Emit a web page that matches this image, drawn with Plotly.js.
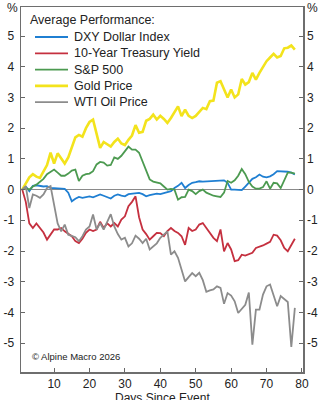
<!DOCTYPE html>
<html>
<head>
<meta charset="utf-8">
<script src="https://cdn.plot.ly/plotly-3.0.1.min.js"></script>
<style>html,body{margin:0;padding:0;background:#fff;}#chart{width:324px;height:400px;}</style>
</head>
<body>
<div id="chart"></div>
<script>
const days = [1,2,3,4,5,6,7,8,9,10,11,12,13,14,15,16,17,18,19,20,21,22,23,24,25,26,27,28,29,30,31,32,33,34,35,36,37,38,39,40,41,42,43,44,45,46,47,48,49,50,51,52,53,54,55,56,57,58,59,60,61,62,63,64,65,66,67,68,69,70,71,72,73,74,75,76,77,78];

const dxy = [0,0.1,-0.05,0.12,0.14,0.12,0.1,0.11,0.05,0.05,0.04,0.03,0.02,-0.1,-0.38,-0.3,-0.24,-0.27,-0.25,-0.22,-0.25,-0.2,-0.16,-0.2,-0.25,-0.29,-0.2,-0.16,-0.2,-0.22,-0.15,-0.13,-0.12,-0.11,-0.15,-0.22,-0.18,-0.15,-0.13,-0.15,-0.12,-0.08,-0.05,0.05,0.12,0.22,0.05,0.15,0.22,0.24,0.27,0.26,0.27,0.27,0.27,0.28,0.3,0.3,0.22,0.0,0.0,0.0,-0.02,0.1,0.22,0.35,0.4,0.49,0.42,0.4,0.43,0.5,0.6,0.6,0.6,0.58,0.55,0.49];

const treasury = [0,-0.4,-1.1,-1.25,-1.1,-1.25,-1.4,-1.63,-1.47,-1.3,-1.3,-1.25,-1.36,-1.43,-1.52,-1.68,-1.74,-1.6,-1.41,-1.3,-1.35,-1.3,-1.05,-1.25,-1.1,-1.2,-1.09,-1.2,-0.98,-0.87,-0.54,-0.4,-0.22,-0.9,-1.3,-1.45,-1.63,-1.52,-1.41,-1.42,-1.52,-1.35,-1.25,-1.35,-1.41,-1.52,-1.8,-1.25,-1.35,-1.3,-1.14,-1.09,-1.25,-1.45,-1.57,-1.68,-1.3,-2.01,-1.74,-1.95,-2.33,-2.3,-2.12,-2.15,-2.1,-2.06,-1.9,-1.87,-1.82,-1.76,-1.7,-1.47,-1.5,-1.65,-1.9,-2.01,-1.79,-1.6];

const sp500 = [0,0.05,0.0,0.1,0.16,0.25,0.35,0.5,0.58,0.65,0.55,0.45,0.45,0.52,0.62,0.65,0.28,0.45,0.5,0.52,0.6,0.82,0.9,0.88,0.78,0.8,1.05,1.0,1.1,1.25,1.4,1.3,1.3,1.2,0.9,0.6,0.33,0.26,0.24,0.2,0.1,0.0,0.02,0.0,-0.33,-0.25,-0.24,0.0,-0.05,-0.15,-0.05,0.0,-0.1,-0.16,-0.2,-0.22,-0.24,-0.1,0.28,0.22,0.3,0.45,0.67,0.5,0.25,0.1,0.03,0.03,0.08,0.27,0.03,0.22,0.2,0.05,0.3,0.55,0.55,0.52];

const gold = [0,0.2,0.4,0.5,0.42,0.38,0.6,0.8,1.2,0.85,1.18,1.0,0.85,1.05,1.4,1.7,1.78,1.72,2.0,2.2,2.28,1.8,1.36,1.55,1.48,1.4,1.55,1.66,1.5,1.45,1.62,1.76,2.1,1.85,1.88,2.24,2.3,2.44,2.28,2.4,2.3,2.17,2.33,2.5,2.71,2.39,2.6,2.4,2.33,2.4,2.52,2.66,2.62,2.88,2.9,3.48,3.53,3.25,3.0,3.26,3.0,3.1,3.6,3.42,3.5,3.8,3.58,3.8,4.0,4.18,4.3,4.42,4.3,4.35,4.6,4.62,4.69,4.56];

const wti = [0,0.11,-0.6,-0.16,-0.2,-0.27,-0.16,0.05,0.11,-0.5,-1.1,-1.36,-1.14,-1.47,-1.52,-1.55,-1.68,-1.52,-1.3,-1.2,-0.81,-1.3,-1.09,-1.3,-1.05,-0.8,-1.2,-1.45,-1.63,-1.57,-1.85,-1.75,-1.5,-1.6,-1.74,-1.6,-1.95,-1.85,-1.75,-1.57,-1.45,-1.36,-2.12,-2.01,-2.22,-2.6,-2.99,-2.85,-2.72,-2.82,-2.71,-2.95,-3.33,-3.28,-3.25,-3.15,-3.2,-3.72,-3.37,-3.45,-3.64,-4.02,-3.9,-3.75,-3.35,-5.05,-3.91,-3.91,-3.42,-3.15,-3.09,-3.45,-3.8,-3.47,-3.58,-3.66,-5.12,-3.85];

const seriesNames = ["DXY Dollar Index","10-Year Treasury Yield","S&P 500","Gold Price","WTI Oil Price"];
const legendTitle = "Average Performance:";
const yTickVals = [-5,-4,-3,-2,-1,0,1,2,3,4,5];
const yTickText = ["-5","-4","-3","-2","-1","0","1","2","3","4","5"];
const xTickVals = [10,20,30,40,50,60,70,80];

const colors = ["#1f7fd2","#c5303f","#4c9a50","#f3e31c","#8c8c8c"];
const widths = [1.8,1.8,1.8,2.6,1.8];
const values = [dxy, treasury, sp500, gold, wti];

const traces = values.map((v,i)=>({
  x: days, y: v, type:'scatter', mode:'lines', name: seriesNames[i],
  line:{color:colors[i], width:widths[i]}
}));
traces.push({x:[days[0]], y:[0], yaxis:'y2', type:'scatter', mode:'markers', marker:{opacity:0}, showlegend:false, hoverinfo:'skip'});

const font = {family:'"Liberation Sans", Arial, sans-serif', color:'#222'};
const yr = [-5.94, 5.945];

// pixel -> paper helpers for the hand-built legend
const L = 21, R = 303, T = 7, B = 372;
const px = p => (p - L) / (R - L);
const py = p => (B - p) / (B - T);

const shapes = [];
const annotations = [
  {xref:'paper', yref:'paper', x:px(12.5), y:py(8), xanchor:'center', yanchor:'middle', text:'%', showarrow:false, font:Object.assign({size:12}, font)},
  {xref:'paper', yref:'paper', x:px(312), y:py(8), xanchor:'center', yanchor:'middle', text:'%', showarrow:false, font:Object.assign({size:12}, font)},
  {xref:'paper', yref:'paper', x:px(30), y:py(356), xanchor:'left', yanchor:'middle', text:'© Alpine Macro 2026', showarrow:false, font:Object.assign({size:9.5}, font)},
  {xref:'paper', yref:'paper', x:px(162), y:py(398), xanchor:'center', yanchor:'middle', text:'Days Since Event', showarrow:false, font:Object.assign({size:12}, font)},
  {xref:'paper', yref:'paper', x:px(28), y:py(20), xanchor:'left', yanchor:'middle', text:legendTitle, showarrow:false, font:Object.assign({size:12.5}, font)}
];
seriesNames.forEach((n,i)=>{
  const yy = 37 + 16.3*i;
  shapes.push({type:'line', xref:'paper', yref:'paper', x0:px(35), x1:px(68), y0:py(yy), y1:py(yy), line:{color:colors[i], width:widths[i]}});
  annotations.push({xref:'paper', yref:'paper', x:px(72), y:py(yy), xanchor:'left', yanchor:'middle', text:n, showarrow:false, font:Object.assign({size:12.5}, font)});
});

const layout = {
  width:324, height:400,
  margin:{l:L, r:324-R, t:T, b:400-B, pad:0},
  paper_bgcolor:'#fff', plot_bgcolor:'#fff',
  font: Object.assign({size:12}, font),
  showlegend:false,
  xaxis:{
    range:[0.65, 80.3], tickmode:'array', tickvals:xTickVals,
    ticks:'inside', ticklen:4, tickcolor:'#666', tickwidth:1,
    showline:true, linecolor:'#6e6e6e', linewidth:1.5, mirror:true,
    showgrid:false, zeroline:false,
    tickfont:Object.assign({size:12}, font)
  },
  yaxis:{
    range:yr, tickmode:'array', tickvals:yTickVals, ticktext:yTickText,
    ticks:'inside', ticklen:4, tickcolor:'#666', tickwidth:1,
    showline:true, linecolor:'#6e6e6e', linewidth:1.5, mirror:'ticks',
    showgrid:false, zeroline:true, zerolinecolor:'#8a8a8a', zerolinewidth:1,
    tickfont:Object.assign({size:12}, font), ticklabelstandoff:3
  },
  yaxis2:{
    range:yr, overlaying:'y', side:'right', tickmode:'array', tickvals:yTickVals, ticktext:yTickText,
    ticks:'', showline:false, showgrid:false, zeroline:false,
    tickfont:Object.assign({size:12}, font), ticklabelstandoff:3
  },
  shapes: shapes,
  annotations: annotations
};

Plotly.newPlot('chart', traces, layout, {staticPlot:true, displayModeBar:false});
</script>
</body>
</html>
